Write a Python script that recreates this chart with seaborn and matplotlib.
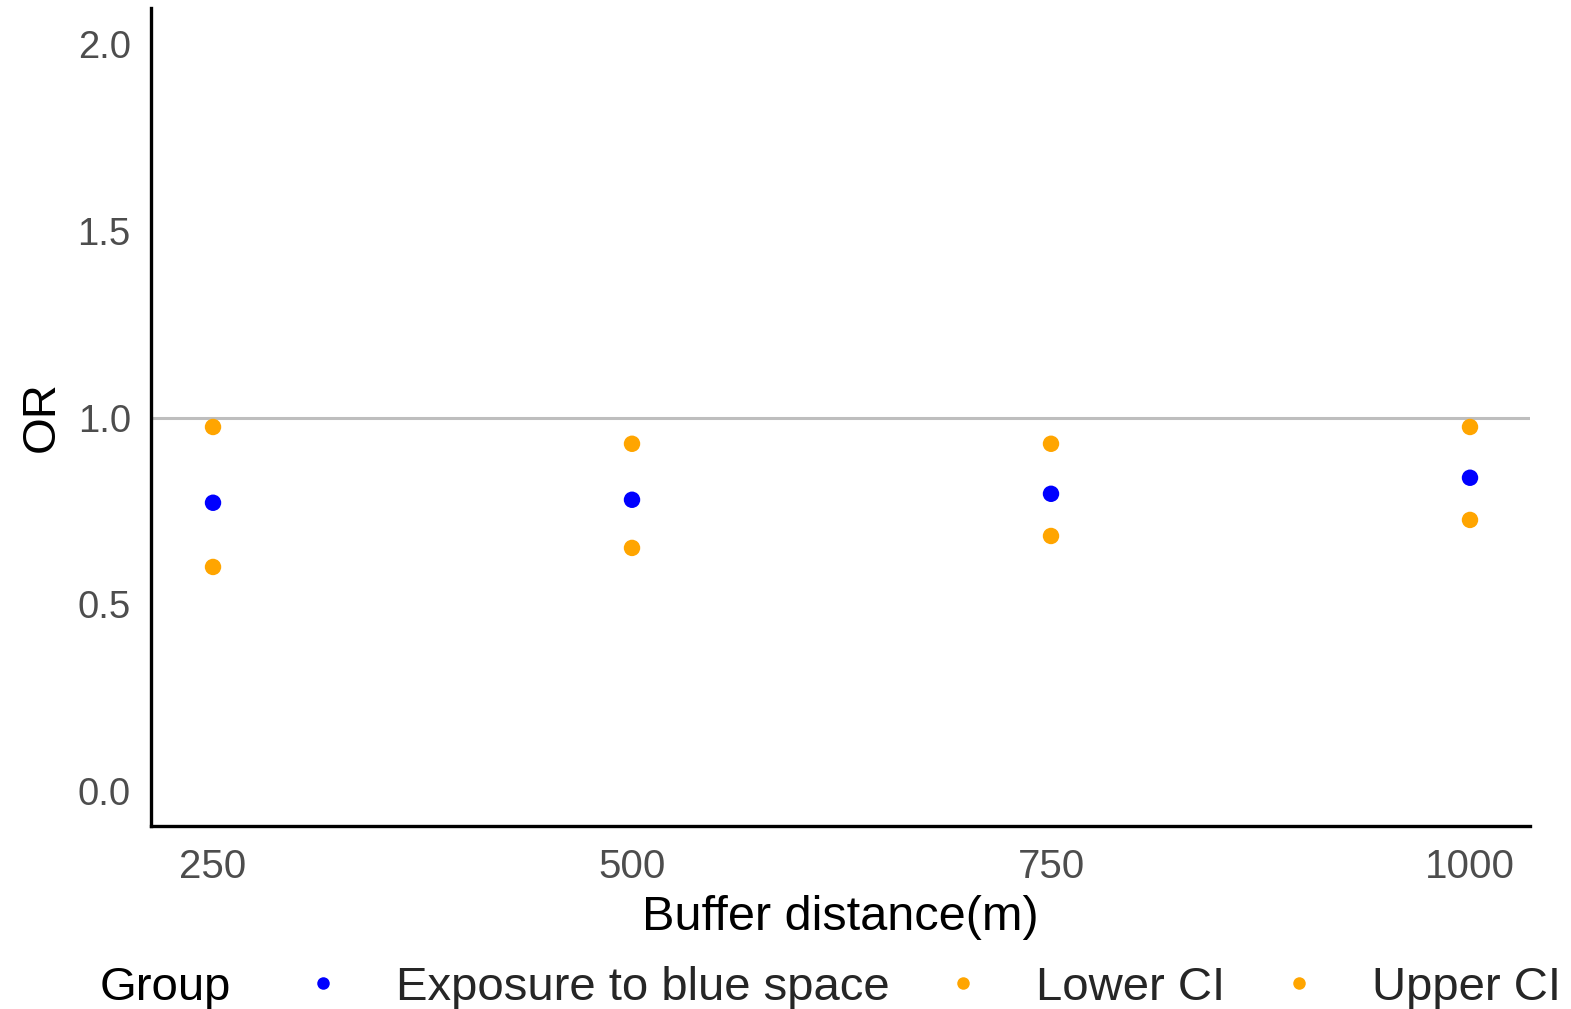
import matplotlib
matplotlib.use("Agg")
import matplotlib.pyplot as plt
from matplotlib.lines import Line2D
import seaborn as sns
import pandas as pd

# ---- data ----
buffer_distance = [250, 500, 750, 1000]
exposure_or = [0.772, 0.780, 0.796, 0.839]
lower_ci = [0.600, 0.651, 0.683, 0.726]
upper_ci = [0.975, 0.930, 0.930, 0.975]
group_labels = ["Exposure to blue space", "Lower CI", "Upper CI"]
y_ticks = [0.0, 0.5, 1.0, 1.5, 2.0]
x_ticks = [250, 500, 750, 1000]

df = pd.DataFrame({
    "Buffer": buffer_distance * 3,
    "OR": exposure_or + lower_ci + upper_ci,
    "Group": [group_labels[0]] * 4 + [group_labels[1]] * 4 + [group_labels[2]] * 4,
})
palette = {group_labels[0]: "#0000FF", group_labels[1]: "#FFA500", group_labels[2]: "#FFA500"}

sns.set_style("white")
plt.rcParams["font.family"] = ["Liberation Sans", "DejaVu Sans"]

W, H = 1571, 1009
fig = plt.figure(figsize=(W / 100, H / 100), dpi=100)
ax = fig.add_axes([151 / W, 1 - 826 / H, (1530 - 151) / W, (826 - 8) / H])

ax.axhline(1.0, color="#BEBEBE", lw=2.2, zorder=1)
sns.scatterplot(data=df, x="Buffer", y="OR", hue="Group", palette=palette,
                s=140, linewidth=0, ax=ax, legend=False, zorder=3)

ax.set_xlim(213, 1035.8)
ax.set_ylim(-0.094, 2.0975)
ax.set_xticks(x_ticks)
ax.set_xticklabels([str(v) for v in x_ticks])
ax.set_yticks(y_ticks)
ax.set_yticklabels([f"{v:.1f}" for v in y_ticks])

for side in ["top", "right"]:
    ax.spines[side].set_visible(False)
for side in ["left", "bottom"]:
    ax.spines[side].set_color("black")
    ax.spines[side].set_linewidth(2.4)

ax.tick_params(axis="both", which="major", length=6.5, width=1.6, color="#333333",
               labelcolor="#4D4D4D", pad=8)
ax.tick_params(axis="x", labelsize=29, pad=9)
ax.tick_params(axis="y", labelsize=27.5)

ax.set_xlabel("Buffer distance(m)", fontsize=35, color="black", labelpad=7)
ax.set_ylabel("OR", fontsize=34, color="black", labelpad=10)

handles = [Line2D([0], [0], marker="o", linestyle="", markersize=9,
                  markerfacecolor=palette[g], markeredgewidth=0) for g in group_labels]
fig.legend(handles, group_labels, loc="center left",
           bbox_to_anchor=(309 / W, 1 - 988 / H), ncol=3, frameon=False,
           fontsize=34, handlelength=0.6, handletextpad=1.25, columnspacing=1.25,
           borderpad=0, borderaxespad=0)
fig.text(100 / W, 1 - 988 / H, "Group", fontsize=34, ha="left", va="center", color="black")

fig.savefig("out.png", dpi=100)
